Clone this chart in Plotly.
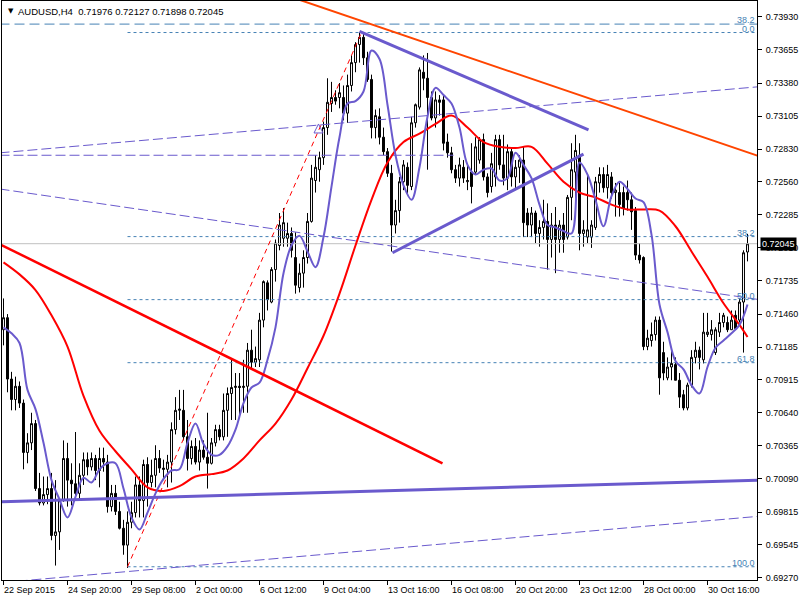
import plotly.graph_objects as go

# ---------------- data (AUDUSD H4) ----------------
bars = list(range(187))
opens = [0.7133,0.7143,0.7092,0.7075,0.7086,0.7072,0.7031,0.7039,0.7055,0.7001,
         0.6989,0.6996,0.7001,0.6962,0.6965,0.6991,0.7026,0.7008,0.7005,0.6997,
         0.7012,0.7025,0.7019,0.7026,0.7016,0.7026,0.7023,0.6986,0.6997,0.6982,
         0.6968,0.6954,0.6973,0.6981,0.7004,0.6991,0.7021,0.7006,0.7012,0.7026,
         0.7018,0.7017,0.7023,0.7050,0.7066,0.7066,0.7044,0.7026,0.7036,0.7023,
         0.7033,0.7027,0.7022,0.7039,0.7050,0.7044,0.7066,0.7080,0.7085,0.7086,
         0.7085,0.7086,0.7116,0.7106,0.7108,0.7141,0.7172,0.7156,0.7183,0.7203,
         0.7209,0.7209,0.7213,0.7193,0.7168,0.7180,0.7193,0.7223,0.7257,0.7266,
         0.7276,0.7301,0.7321,0.7326,0.7326,0.7326,0.7313,0.7336,0.7355,0.7370,
         0.7376,0.7359,0.7341,0.7301,0.7310,0.7293,0.7281,0.7263,0.7220,0.7232,
         0.7256,0.7268,0.7252,0.7305,0.7318,0.7347,0.7342,0.7326,0.7309,0.7324,
         0.7324,0.7289,0.7280,0.7266,0.7259,0.7268,0.7256,0.7264,0.7264,0.7274,
         0.7291,0.7260,0.7252,0.7260,0.7291,0.7270,0.7259,0.7281,0.7260,0.7268,
         0.7274,0.7230,0.7220,0.7230,0.7213,0.7218,0.7223,0.7208,0.7220,0.7208,
         0.7220,0.7210,0.7243,0.7264,0.7278,0.7213,0.7210,0.7210,0.7218,0.7255,
         0.7262,0.7251,0.7260,0.7247,0.7247,0.7247,0.7247,0.7241,0.7232,0.7195,
         0.7193,0.7119,0.7124,0.7129,0.7141,0.7114,0.7093,0.7102,0.7104,0.7091,
         0.7079,0.7068,0.7087,0.7110,0.7116,0.7108,0.7129,0.7129,0.7114,0.7131,
         0.7139,0.7139,0.7133,0.7145,0.7141,0.7156,0.71976]
highs = [0.7159,0.7146,0.7098,0.7094,0.7090,0.7075,0.7047,0.7064,0.7058,0.7014,
         0.7011,0.7011,0.7014,0.7008,0.6993,0.7041,0.7039,0.7022,0.7048,0.7022,
         0.7031,0.7031,0.7031,0.7029,0.7035,0.7035,0.7029,0.7004,0.7004,0.6990,
         0.6975,0.6982,0.6990,0.7011,0.7011,0.7025,0.7027,0.7025,0.7037,0.7033,
         0.7025,0.7029,0.7056,0.7077,0.7083,0.7083,0.7058,0.7041,0.7043,0.7041,
         0.7041,0.7064,0.7043,0.7054,0.7054,0.7080,0.7085,0.7108,0.7097,0.7097,
         0.7108,0.7122,0.7133,0.7119,0.7147,0.7174,0.7174,0.7185,0.7208,0.7230,
         0.7234,0.7222,0.7218,0.7214,0.7188,0.7199,0.7230,0.7270,0.7278,0.7281,
         0.7306,0.7342,0.7339,0.7332,0.7338,0.7336,0.7345,0.7361,0.7372,0.7380,
         0.7380,0.7364,0.7345,0.7316,0.7317,0.7301,0.7284,0.7270,0.7241,0.7260,
         0.7274,0.7272,0.7310,0.7321,0.7351,0.7361,0.7363,0.7331,0.7331,0.7328,
         0.7328,0.7296,0.7285,0.7270,0.7276,0.7274,0.7271,0.7288,0.7293,0.7293,
         0.7296,0.7263,0.7280,0.7295,0.7295,0.7295,0.7287,0.7284,0.7274,0.7278,
         0.7285,0.7234,0.7235,0.7232,0.7224,0.7241,0.7238,0.7230,0.7235,0.7224,
         0.7230,0.7245,0.7288,0.7295,0.7288,0.7224,0.7263,0.7224,0.7260,0.7268,
         0.7268,0.7270,0.7264,0.7255,0.7255,0.7252,0.7257,0.7247,0.7235,0.7205,
         0.7194,0.7133,0.7139,0.7144,0.7144,0.7123,0.7110,0.7116,0.7110,0.7097,
         0.7083,0.7089,0.7116,0.7123,0.7119,0.7147,0.7147,0.7141,0.7135,0.7147,
         0.7147,0.7144,0.7149,0.7149,0.7159,0.7199,0.72127]
lows = [0.7120,0.7081,0.7066,0.7066,0.7068,0.7017,0.7022,0.7033,0.6999,0.6987,
        0.6987,0.6988,0.6958,0.6937,0.6950,0.6990,0.6986,0.6987,0.6991,0.6991,
        0.7004,0.7012,0.7016,0.7008,0.7002,0.7015,0.6981,0.6982,0.6979,0.6967,
        0.6946,0.6935,0.6968,0.6977,0.6977,0.6977,0.6986,0.7002,0.7002,0.7014,
        0.7008,0.7002,0.7006,0.7046,0.7058,0.7041,0.7016,0.7021,0.7021,0.7016,
        0.7025,0.7001,0.7021,0.7036,0.7041,0.7041,0.7044,0.7058,0.7058,0.7062,
        0.7064,0.7064,0.7100,0.7102,0.7102,0.7135,0.7149,0.7155,0.7173,0.7199,
        0.7202,0.7202,0.7193,0.7163,0.7164,0.7168,0.7188,0.7222,0.7247,0.7256,
        0.7270,0.7295,0.7314,0.7320,0.7317,0.7307,0.7305,0.7331,0.7347,0.7355,
        0.7353,0.7339,0.7292,0.7292,0.7287,0.7278,0.7260,0.7198,0.7213,0.7222,
        0.7249,0.7245,0.7249,0.7301,0.7316,0.7332,0.7266,0.7307,0.7301,0.7311,
        0.7282,0.7276,0.7263,0.7255,0.7252,0.7255,0.7249,0.7238,0.7262,0.7271,
        0.7257,0.7243,0.7247,0.7252,0.7266,0.7253,0.7249,0.7252,0.7249,0.7255,
        0.7210,0.7210,0.7210,0.7205,0.7202,0.7208,0.7183,0.7193,0.7180,0.7197,
        0.7197,0.7208,0.7224,0.7237,0.7199,0.7202,0.7205,0.7201,0.7216,0.7247,
        0.7247,0.7242,0.7242,0.7227,0.7227,0.7228,0.7232,0.7216,0.7191,0.7188,
        0.7116,0.7116,0.7119,0.7124,0.7079,0.7091,0.7091,0.7091,0.7091,0.7068,
        0.7066,0.7066,0.7085,0.7105,0.7100,0.7105,0.7127,0.7124,0.7112,0.7127,
        0.7135,0.7131,0.7133,0.7133,0.7139,0.7114,0.71898]
closes = [0.7143,0.7092,0.7075,0.7086,0.7072,0.7031,0.7039,0.7055,0.7001,0.6989,
          0.6996,0.7001,0.6962,0.6965,0.6991,0.7026,0.7008,0.7005,0.6997,0.7012,
          0.7025,0.7019,0.7026,0.7016,0.7026,0.7023,0.6986,0.6997,0.6982,0.6968,
          0.6954,0.6973,0.6981,0.7004,0.6991,0.7021,0.7006,0.7012,0.7026,0.7018,
          0.7017,0.7023,0.7050,0.7066,0.7067,0.7044,0.7026,0.7036,0.7023,0.7033,
          0.7027,0.7022,0.7039,0.7050,0.7044,0.7066,0.7080,0.7085,0.7086,0.7085,
          0.7086,0.7116,0.7106,0.7109,0.7141,0.7173,0.7158,0.7183,0.7205,0.7220,
          0.7222,0.7213,0.7199,0.7170,0.7180,0.7193,0.7223,0.7259,0.7268,0.7276,
          0.7301,0.7322,0.7326,0.7323,0.7330,0.7313,0.7336,0.7355,0.7370,0.7376,
          0.7359,0.7341,0.7301,0.7311,0.7293,0.7281,0.7263,0.7220,0.7232,0.7256,
          0.7270,0.7253,0.7305,0.7320,0.7349,0.7342,0.7326,0.7309,0.7324,0.7322,
          0.7288,0.7280,0.7266,0.7259,0.7270,0.7259,0.7257,0.7252,0.7285,0.7291,
          0.7260,0.7247,0.7271,0.7291,0.7270,0.7259,0.7281,0.7260,0.7268,0.7274,
          0.7222,0.7220,0.7230,0.7213,0.7218,0.7223,0.7208,0.7220,0.7208,0.7220,
          0.7208,0.7243,0.7266,0.7282,0.7213,0.7216,0.7216,0.7220,0.7256,0.7262,
          0.7251,0.7262,0.7247,0.7249,0.7237,0.7234,0.7241,0.7231,0.7195,0.7191,
          0.7119,0.7126,0.7129,0.7141,0.7093,0.7097,0.7102,0.7105,0.7091,0.7077,
          0.7068,0.7087,0.7110,0.7116,0.7110,0.7131,0.7131,0.7133,0.7133,0.7139,
          0.7145,0.7133,0.7141,0.7134,0.7156,0.7197,0.72045]

# slow moving average (red), read every 4 bars
ma_slow_x = [0,4,8,12,16,20,24,28,32,36,40,44,48,52,56,60,64,68,72,76,80,84,88,92,
             96,100,104,108,112,116,120,124,128,132,136,140,144,148,152,156,160,164,
             168,172,176,180,184,186]
ma_slow = [0.7189,0.7179,0.7166,0.7145,0.7119,0.7078,0.7049,0.7032,0.7017,0.7002,
           0.6999,0.7003,0.7011,0.7013,0.7016,0.7026,0.7041,0.7055,0.7075,0.7101,
           0.7128,0.7163,0.7203,0.7241,0.7272,0.7289,0.7296,0.7304,0.7311,0.7301,
           0.7289,0.7285,0.7284,0.7285,0.7271,0.7256,0.7247,0.7243,0.7237,0.7233,
           0.7233,0.7232,0.7219,0.7198,0.7177,0.7155,0.7137,0.7127]

# fast moving average (slate blue), read every 2 bars
ma_fast_x = list(range(0, 187, 2))
ma_fast = [0.7135,0.7130,0.7122,0.7083,0.7067,0.7039,0.7008,0.6992,0.6977,0.6994,
           0.7010,0.7006,0.7017,0.7022,0.7022,0.7001,0.6977,0.6967,0.6981,0.6997,
           0.7009,0.7016,0.7017,0.7039,0.7055,0.7038,0.7029,0.7029,0.7036,0.7050,
           0.7072,0.7085,0.7089,0.7108,0.7135,0.7180,0.7203,0.7211,0.7198,0.7185,
           0.7210,0.7252,0.7293,0.7321,0.7323,0.7331,0.7365,0.7358,0.7320,0.7278,
           0.7253,0.7241,0.7268,0.7310,0.7334,0.7328,0.7321,0.7301,0.7270,0.7262,
           0.7266,0.7267,0.7257,0.7259,0.7280,0.7270,0.7259,0.7237,0.7220,0.7218,
           0.7215,0.7213,0.7272,0.7262,0.7241,0.7219,0.7244,0.7256,0.7250,0.7242,
           0.7239,0.7212,0.7154,0.7131,0.7107,0.7100,0.7087,0.7080,0.7102,0.7118,
           0.7124,0.7130,0.7137,0.7154]

# drawn objects: (bar, price) anchor pairs
orange_x, orange_y = [60, 190], [0.7423, 0.7276]
tri_upper_x, tri_upper_y = [89, 146.25], [0.7381, 0.7299]
tri_lower_x, tri_lower_y = [97.25, 145], [0.7197, 0.7279]
base_x, base_y = [-1, 189], [0.6990, 0.7008]
red_trend_x, red_trend_y = [-1, 109.75], [0.72042, 0.7022]
dash_down_x, dash_down_y = [-1, 189], [0.7250, 0.7158]
dash_up_x, dash_up_y = [-1, 189], [0.7280, 0.7335]
dash_flat_x, dash_flat_y = [-1, 112.5], [0.7278, 0.7278]
dash_low_x, dash_low_y = [0, 189], [0.6923, 0.6978]
fib_x = [31, 89.5]
fib_prices = [0.6936, 0.7380]
fib_levels = [0.0, 38.2, 50.0, 61.8, 100.0]
fib2_price, fib2_label = 0.7387, "38.2"
marker_x, marker_y = [78.75], [0.7304]
last_price = 0.72045

y_ticks = [0.73930,0.73655,0.73380,0.73105,0.72830,0.72560,0.72285,0.72010,0.71735,
           0.71460,0.71185,0.70915,0.70640,0.70365,0.70090,0.69815,0.69545,0.69270]
x_tick_pos = [0,16,32,48,64,80,96,112,128,144,160,176]
x_tick_labels = ["22 Sep 2015","24 Sep 20:00","29 Sep 08:00","2 Oct 00:00","6 Oct 12:00",
                 "9 Oct 04:00","13 Oct 16:00","16 Oct 08:00","20 Oct 20:00",
                 "23 Oct 12:00","28 Oct 00:00","30 Oct 16:00"]
title_text = "AUDUSD,H4  0.71976 0.72127 0.71898 0.72045"

# ---------------- figure ----------------
SLATE = "#6A5ACD"
FIBC = "#4682B4"
FONT = "Liberation Sans"

fig = go.Figure()

def line(x, y, color, width, dash="solid", shape="linear"):
    fig.add_trace(go.Scatter(x=x, y=y, mode="lines", hoverinfo="skip",
                             line=dict(color=color, width=width, dash=dash, shape=shape)))

# bid price line
line([-1, 190], [last_price, last_price], "#C0C0C0", 1)

fig.add_trace(go.Candlestick(
    x=bars, open=opens, high=highs, low=lows, close=closes,
    increasing=dict(line=dict(color="black", width=1), fillcolor="white"),
    decreasing=dict(line=dict(color="black", width=1), fillcolor="black"),
    whiskerwidth=0, hoverinfo="skip"))

# fibonacci levels
fh, fl = fib_prices[1], fib_prices[0]
annotations = []
for lv in fib_levels:
    p = fh - (fh - fl) * lv / 100.0
    line([fib_x[0], 190], [p, p], FIBC, 1, dash="3px,3px")
    annotations.append(dict(x=1, xref="paper", y=p, yref="y", text=f"{lv:.1f}",
                            xanchor="right", yanchor="bottom", showarrow=False,
                            font=dict(family=FONT, size=9, color=FIBC),
                            xshift=-1, yshift=-2, borderpad=0))
line([-1, 190], [fib2_price, fib2_price], FIBC, 1, dash="10px,5px")
annotations.append(dict(x=1, xref="paper", y=fib2_price, yref="y", text=fib2_label,
                        xanchor="right", yanchor="bottom", showarrow=False,
                        font=dict(family=FONT, size=9, color=FIBC),
                        xshift=-1, yshift=-2, borderpad=0))
line(fib_x, fib_prices, "#FF0000", 1, dash="5px,4px")

# thin dashed lines
line(dash_down_x, dash_down_y, SLATE, 1, dash="10px,4px")
line(dash_up_x, dash_up_y, SLATE, 1, dash="10px,4px")
line(dash_flat_x, dash_flat_y, SLATE, 1, dash="10px,4px")
line(dash_low_x, dash_low_y, SLATE, 1, dash="10px,4px")

# moving averages
line(ma_slow_x, ma_slow, "#FF0000", 2, shape="spline")
line(ma_fast_x, ma_fast, SLATE, 2, shape="spline")

# trend lines
line(orange_x, orange_y, "#FF4500", 2)
line(red_trend_x, red_trend_y, "#FF0000", 2.5)
line(tri_upper_x, tri_upper_y, SLATE, 3)
line(tri_lower_x, tri_lower_y, SLATE, 3)
line(base_x, base_y, SLATE, 3)

fig.add_trace(go.Scatter(x=marker_x, y=marker_y, mode="markers", hoverinfo="skip",
                         marker=dict(symbol="arrow-up-open", size=9, color=SLATE,
                                     line=dict(color=SLATE, width=1))))

# x labels (left aligned like MT4)
for pos, lab in zip(x_tick_pos, x_tick_labels):
    annotations.append(dict(x=pos, xref="x", y=0, yref="paper", text=lab,
                            xanchor="left", yanchor="top", showarrow=False,
                            xshift=-2, yshift=-3,
                            font=dict(family=FONT, size=9, color="black")))
# current price label
annotations.append(dict(x=1, xref="paper", y=last_price, yref="y", text=f"{last_price:.5f}",
                        xanchor="left", showarrow=False, xshift=3, bgcolor="black",
                        borderpad=1, font=dict(family=FONT, size=9, color="white")))
# title
annotations.append(dict(x=0, xref="paper", y=1, yref="paper", text="▼", xanchor="left",
                        yanchor="top", showarrow=False, xshift=4, yshift=-4,
                        font=dict(family="DejaVu Sans", size=7, color="black")))
annotations.append(dict(x=0, xref="paper", y=1, yref="paper", text=title_text,
                        xanchor="left", yanchor="top", showarrow=False, xshift=14, yshift=-3,
                        font=dict(family=FONT, size=9.5, color="black")))

fig.update_layout(
    width=800, height=600,
    margin=dict(l=2, r=43, t=1, b=20),
    paper_bgcolor="white", plot_bgcolor="white",
    showlegend=False,
    font=dict(family=FONT, size=9, color="black"),
    annotations=annotations,
    xaxis=dict(range=[-0.375, 188.375], tickvals=x_tick_pos, showticklabels=False,
               ticks="outside", ticklen=4, tickcolor="black",
               showline=True, linecolor="black", linewidth=1, mirror=True,
               showgrid=False, zeroline=False, rangeslider=dict(visible=False),
               fixedrange=True),
    yaxis=dict(range=[0.69250, 0.74062], side="right", tickvals=y_ticks,
               ticktext=[f"{v:.5f}" for v in y_ticks],
               ticks="outside", ticklen=4, tickcolor="black", ticklabelstandoff=2,
               showline=True, linecolor="black", linewidth=1, mirror=True,
               showgrid=False, zeroline=False, fixedrange=True,
               tickfont=dict(family=FONT, size=9, color="black")),
)

fig.write_html("out.html",
               config={"displayModeBar": False},
               post_script="document.body.style.margin='0px';"
                           "document.body.style.overflow='hidden';")
